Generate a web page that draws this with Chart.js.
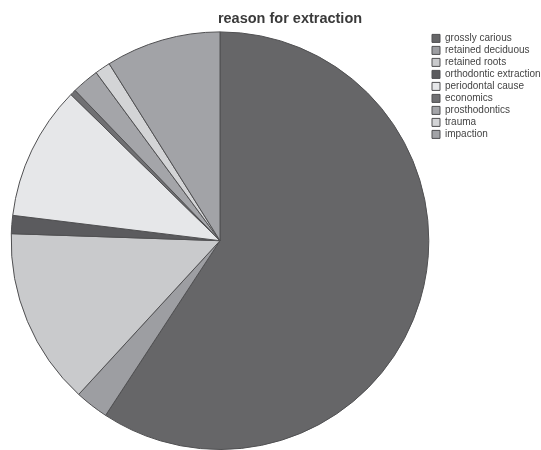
<!DOCTYPE html>
<html>
<head>
<meta charset="utf-8">
<title>reason for extraction</title>
<script src="https://cdn.jsdelivr.net/npm/chart.js@4/dist/chart.umd.min.js"></script>
<style>
  html, body { margin: 0; padding: 0; background: #fff; overflow: hidden; }
  #wrap { width: 541px; height: 450px; }
</style>
</head>
<body>
<div id="wrap"><canvas id="pie" width="541" height="450"></canvas></div>
<script>
// reason for extraction, share of extractions (%)
const reasons = [
  'grossly carious',
  'retained deciduous',
  'retained roots',
  'orthodontic extraction',
  'periodontal cause',
  'economics',
  'prosthodontics',
  'trauma',
  'impaction',
];
const shares = [59.2, 2.6, 13.7, 1.4, 10.4, 0.45, 2.1, 1.2, 8.9];
const greys = [
  '#666668', '#9d9ea2', '#c9cacc', '#5b5b5e', '#e6e7e9',
  '#707073', '#a4a5a9', '#d3d4d6', '#a2a3a7',
];

const FONT = "'Liberation Sans', Arial, sans-serif";

// the original title sits a bit right of the canvas centre
const titleShift = {
  id: 'titleShift',
  afterLayout(chart) {
    if (chart.titleBlock) chart.titleBlock.left = 39;
  },
};

new Chart(document.getElementById('pie'), {
  type: 'pie',
  data: {
    labels: reasons,
    datasets: [{
      data: shares,
      backgroundColor: greys,
      borderColor: '#505052',
      borderWidth: 1,
    }],
  },
  options: {
    responsive: false,
    animation: false,
    layout: { padding: { left: 10 } },
    plugins: {
      title: {
        display: true,
        text: 'reason for extraction',
        color: '#3a3a3a',
        font: { family: FONT, size: 14.5, weight: 'bold' },
        padding: { top: 10, bottom: 4 },
      },
      legend: {
        position: 'right',
        align: 'start',
        fullSize: false,
        maxWidth: 111,
        labels: {
          boxWidth: 8,
          boxHeight: 8,
          padding: 2,
          color: '#444',
          font: { family: FONT, size: 10 },
        },
      },
      tooltip: { enabled: false },
    },
  },
  plugins: [titleShift],
});
</script>
</body>
</html>
